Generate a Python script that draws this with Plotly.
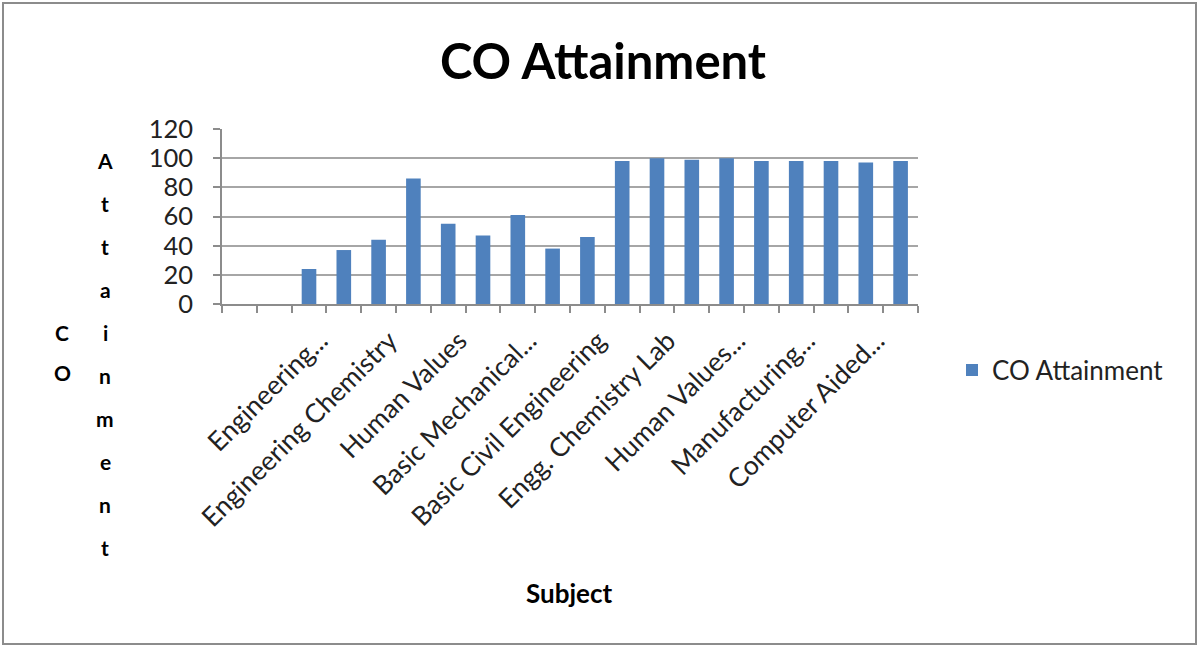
import plotly.graph_objects as go

# ---- data ----
positions = list(range(1, 21))  # 20 category slots
values = [None, None, 24, 37, 44, 86, 55, 47, 61, 38, 46, 98, 100, 99, 100, 98, 98, 98, 97, 98]
label_positions = [3, 5, 7, 9, 11, 13, 15, 17, 19]
tick_labels = ["Engineering...", "Engineering Chemistry", "Human Values", "Basic Mechanical...",
               "Basic Civil Engineering", "Engg. Chemistry Lab", "Human Values...",
               "Manufacturing...", "Computer Aided..."]
series_name = "CO Attainment"
title_text = "CO Attainment"
x_title = "Subject"
y_title_col1 = "CO"
y_title_col2 = "Attainment"

W, H = 1198, 646
L, R, T, B = 222, 918, 129, 304  # plot area in pixels
FONT = "Lato"

def px(x):
    return (x - L) / (R - L)

def py(y):
    return (B - y) / (B - T)

fig = go.Figure()
fig.add_trace(go.Bar(x=positions, y=values, name=series_name,
                     marker=dict(color="#4F81BD", line=dict(width=0)),
                     width=0.42, showlegend=True))

annotations = [
    dict(text=f"<b>{x_title}</b>", x=px(569), y=py(593), xref="paper", yref="paper",
         showarrow=False, font=dict(family=FONT, size=26, color="#000000"),
         xanchor="center", yanchor="middle"),
]
# vertical stacked y-axis title
for i, ch in enumerate(y_title_col1):
    annotations.append(dict(text=f"<b>{ch}</b>", x=px(62), y=py(332 + 40 * i),
                            xref="paper", yref="paper", showarrow=False,
                            font=dict(family=FONT, size=21, color="#000000"),
                            xanchor="center", yanchor="middle"))
for i, ch in enumerate(y_title_col2):
    annotations.append(dict(text=f"<b>{ch}</b>", x=px(105), y=py(160 + 43.1 * i),
                            xref="paper", yref="paper", showarrow=False,
                            font=dict(family=FONT, size=21, color="#000000"),
                            xanchor="center", yanchor="middle"))

fig.update_layout(
    width=W, height=H,
    margin=dict(l=L, r=W - R, t=T, b=H - B, pad=0),
    paper_bgcolor="white", plot_bgcolor="white",
    title=dict(text=f"<b>{title_text}</b>", x=603 / W, xref="container", xanchor="center",
               y=1 - 62 / H, yref="container", yanchor="middle",
               font=dict(family=FONT, size=49, color="#000000")),
    font=dict(family=FONT, color="#222222"),
    showlegend=True,
    legend=dict(x=px(952), y=py(370), xanchor="left", yanchor="middle",
                font=dict(family=FONT, size=26, color="#222222"),
                itemsizing="constant", bgcolor="rgba(0,0,0,0)"),
    annotations=annotations,
    shapes=[dict(type="rect", xref="paper", yref="paper",
                 x0=px(3), x1=px(1196), y0=py(644), y1=py(3),
                 line=dict(color="#8C8C8C", width=2), fillcolor="rgba(0,0,0,0)",
                 layer="below")],
    bargap=0.58,
)

fig.update_xaxes(range=[0.5, 20.5], tickmode="array", tickvals=label_positions,
                 ticktext=tick_labels, tickangle=-45, ticks="",
                 ticklabelshift=11, ticklabelstandoff=9,
                 tickfont=dict(family=FONT, size=26.5, color="#222222"),
                 showgrid=False, zeroline=False,
                 showline=True, linecolor="#8C8C8C", linewidth=1.5,
                 minor=dict(ticks="outside", tick0=0.5, dtick=1, ticklen=7,
                            tickcolor="#8C8C8C", tickwidth=1.5, showgrid=False))
fig.update_yaxes(range=[0, 120], dtick=20, tick0=0, ticks="outside", ticklen=7,
                 tickcolor="#8C8C8C", tickwidth=1.5, ticklabelstandoff=15,
                 tickfont=dict(family=FONT, size=25.5, color="#222222"),
                 showgrid=True, gridcolor="#A6A6A6", gridwidth=1.5,
                 zeroline=False, showline=True, linecolor="#8C8C8C", linewidth=1.5)

fig.write_html("out.html", config={"displayModeBar": False},
               post_script="document.body.style.margin='0';")
